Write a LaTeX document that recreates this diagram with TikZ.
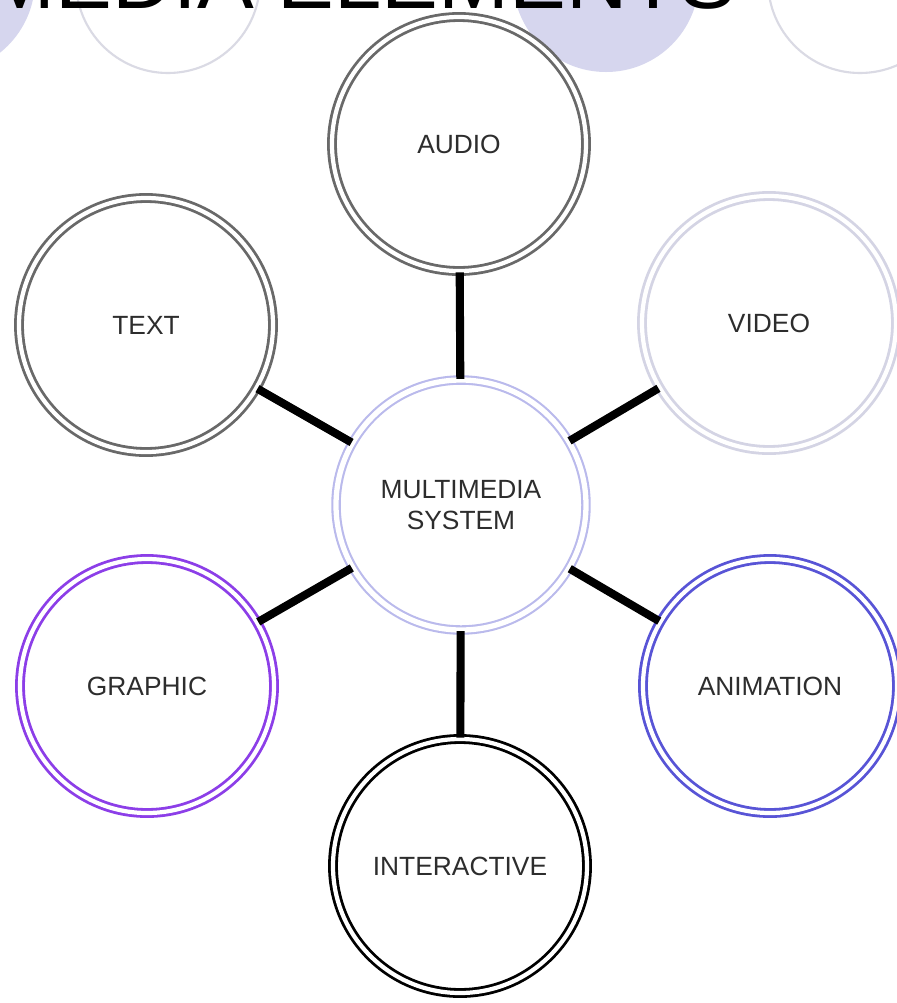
\documentclass[tikz,border=0pt]{standalone}
\usepackage{fontspec}
\setmainfont{Liberation Sans}
\usepackage{xcolor}
\usepackage{tikz}
\usetikzlibrary{positioning}

\definecolor{ringgrey}{RGB}{105,105,105}
\definecolor{ringpale}{RGB}{212,212,228}
\definecolor{ringsys}{RGB}{186,186,236}
\definecolor{ringviolet}{RGB}{140,62,232}
\definecolor{ringblue}{RGB}{88,84,214}
\definecolor{decolav}{RGB}{214,214,238}
\definecolor{decoline}{RGB}{218,218,228}
\definecolor{labelgrey}{RGB}{45,45,45}

\begin{document}
\begin{tikzpicture}[x=0.1mm,y=-0.1mm, font=\fontsize{7.5}{9}\selectfont, line cap=round, line join=round]
				% ===== frame =====
				\useasboundingbox (0,0) rectangle (897,1003);
				\clip (0,0) rectangle (897,1003);
				\fill[white] (0,0) rectangle (897,1003);
				
				% ===== decorative circles at the top =====
				\fill[decolav] (-58,-20) circle (93);
				\fill[decolav] (606,-21) circle (93);
				\foreach \x in {168,860}{
					\draw[decoline, line width=0.6pt] (\x,-19) circle (92);
				}
				
				% ===== title (cut off) =====
				\node[anchor=base east, inner sep=0pt, font=\fontsize{24.2}{26}\selectfont] (title) at (737,8) {MEDIA ELEMENTS};
				
				% ===== styles =====
				\tikzset{elem/.style={circle, minimum size=25.4mm, inner sep=0pt, fill=white, line width=0.8pt, double=white, double distance=1.2pt, align=center, text=labelgrey}}
				\tikzset{link/.style={draw=black, line width=2.3pt, line cap=butt}}
				
				% ===== elements =====
				\node[elem, draw=ringsys, line width=0.6pt, double distance=1.5pt, minimum size=25mm] (sys) at (461,505) {MULTIMEDIA\\SYSTEM};
				\node[elem, draw=ringgrey] (audio) at (459,144) {AUDIO};
				\node[elem, draw=ringgrey] (text) at (146,325) {TEXT};
				\node[elem, draw=ringpale] (video) at (769,323) {VIDEO};
				\node[elem, draw=ringviolet] (graphic) at (147,686) {GRAPHIC};
				\node[elem, draw=ringblue] (anim) at (770,686) {ANIMATION};
				\node[elem, draw=black] (inter) at (460,866) {INTERACTIVE};
				
				% ===== links =====
				\foreach \n in {audio,text,video,graphic,anim,inter}{
					\draw[link] (sys) -- (\n);
				}
			\end{tikzpicture}
\end{document}
